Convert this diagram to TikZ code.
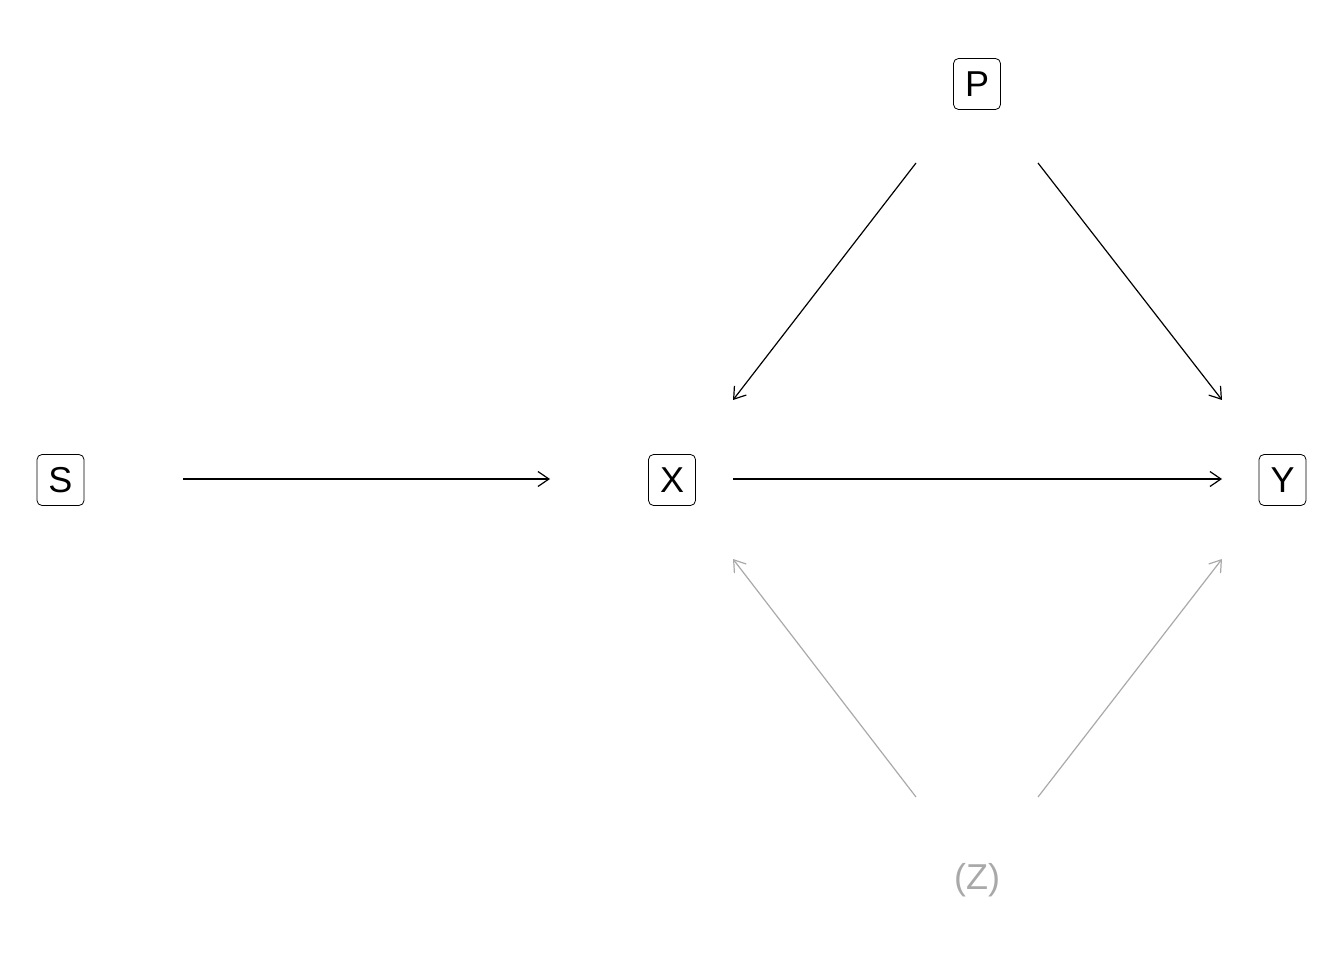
\documentclass[tikz,border=0pt]{standalone}
\usepackage{fontspec}
\setmainfont{Liberation Sans}
\usetikzlibrary{arrows.meta}
\definecolor{zgray}{HTML}{A9A9A9}
\begin{document}
\begin{tikzpicture}[x=1pt,y=-1pt,
  varbox/.style={draw,rounded corners=5pt,line width=0.8pt,minimum width=47pt,minimum height=51pt,inner sep=0pt,font=\fontsize{36}{40}\selectfont},
  varplain/.style={minimum width=47pt,minimum height=51pt,inner sep=0pt,font=\fontsize{36}{40}\selectfont,text=zgray},
  edge/.style={-{Straight Barb[length=11pt,width=15pt]},line width=1.2pt},
  grayedge/.style={edge,draw=zgray}]
\useasboundingbox (0,0) rectangle (1344,960);
\node[varbox] (S) at (60.5,480) {S};
\node[varbox] (X) at (672,480) {X};
\node[varbox] (Y) at (1282.5,480) {Y};
\node[varbox] (P) at (977,84) {P};
\node[varplain] (Z) at (977,880) {(Z)};
\coordinate (s1) at (183,479);
\coordinate (x0) at (550,479);
\draw[edge] (s1) -- (x0);
\draw[edge] (733,479) coordinate (x1) -- (1222,479) coordinate (y0);
\draw[edge] (916,163) coordinate (p1) -- (733,400) coordinate (x2);
\draw[edge] (1038,163) coordinate (p2) -- (1222,400) coordinate (y2);
\draw[grayedge] (916,797) coordinate (z1) -- (733,559) coordinate (x3);
\draw[grayedge] (1038,797) coordinate (z2) -- (1222,559) coordinate (y3);
\end{tikzpicture}
\end{document}
